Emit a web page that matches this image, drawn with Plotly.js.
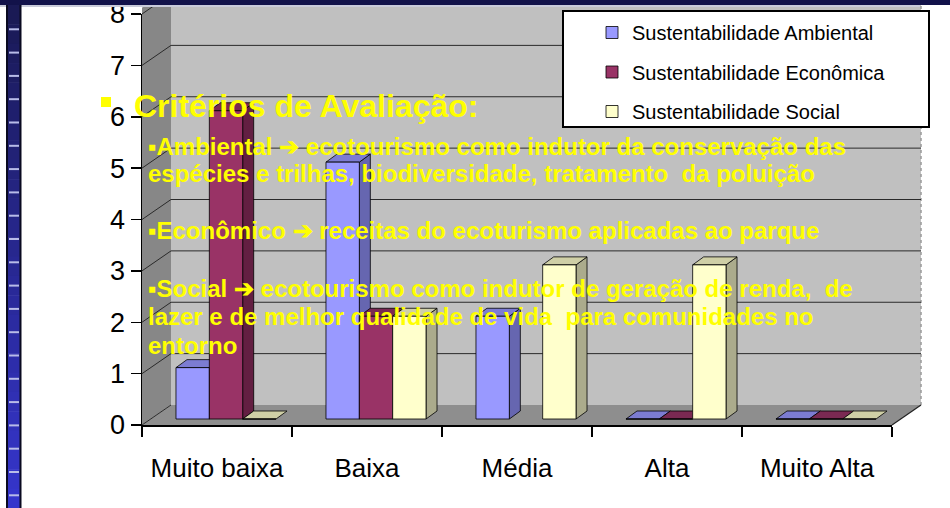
<!DOCTYPE html>
<html>
<head>
<meta charset="utf-8">
<script src="https://cdn.plot.ly/plotly-3.0.1.min.js"></script>
<style>html,body{margin:0;padding:0;background:#fff;}#chart{width:950px;height:508px;}</style>
</head>
<body>
<div id="chart"></div>
<script>
// ---- data ----
const categories = ['Muito baixa', 'Baixa', 'Média', 'Alta', 'Muito Alta'];
const ambiental = [1, 5, 2, 0, 0];
const economica = [6, 2, null, 0, 0];
const social = [0, 2, 3, 3, 0];
const seriesNames = ['Sustentabilidade Ambiental', 'Sustentabilidade Econômica', 'Sustentabilidade Social'];
const yTickVals = [0, 1, 2, 3, 4, 5, 6, 7, 8];
const overlayTitle = 'Critérios de Avaliação:';
const overlayLines = [
  '▪Ambiental ➔ ecotourismo como indutor da conservação das',
  'espécies e trilhas, biodiversidade, tratamento\u00a0 da poluição',
  '▪Econômico ➔ receitas do ecoturismo aplicadas ao parque',
  '▪Social ➔ ecotourismo como indutor de geração de renda,\u00a0 de',
  'lazer e de melhor qualidade de vida\u00a0 para comunidades no',
  'entorno'
];

// ---- styles ----
const W = 950, H = 508;
const M = {l: 142, r: 58, t: 14, b: 83};
const PW = W - M.l - M.r, PH = H - M.t - M.b;
const px = X => (X - M.l) / PW;
const py = Y => (H - M.b - Y) / PH;
const FONT = 'Liberation Sans, Arial, sans-serif';

const frontCol = ['#9999FF', '#993366', '#FFFFCC'];
const sideCol = ['#6666B0', '#631F42', '#ABAB8C'];
const topCol = ['#7C7CD2', '#7A2952', '#CFCFA6'];

const series = [ambiental, economica, social];
const nS = series.length;
const bargap = 0.333;
const barW = (1 - bargap) / nS;
const shiftX = 9 / (PW / 5);          // depth shift of bars (px -> x units)
const baseY = 6 / (PH / 8);           // bars sit slightly behind the front edge
const ddx = 11 / (PW / 5), ddy = 8 / (PH / 8);

const shapes = [];
// top banner and left strip decoration
shapes.push({type: 'rect', xref: 'paper', yref: 'paper', x0: px(0), x1: px(W), y0: py(0), y1: py(5), fillcolor: '#12124A', line: {width: 0}, layer: 'above'});
shapes.push({type: 'line', xref: 'paper', yref: 'paper', x0: px(0), x1: px(920), y0: py(6), y1: py(6), line: {color: '#C9CBDA', width: 2}, layer: 'above'});
const nSeg = 26;
for (let k = 0; k < nSeg; k++) {
  const t = k / (nSeg - 1);
  const r = Math.round(0x1A + t * (0x35 - 0x1A));
  const g = Math.round(0x1A + t * (0x35 - 0x1A));
  const b = Math.round(0x55 + t * (0xCC - 0x55));
  shapes.push({type: 'rect', xref: 'paper', yref: 'paper', x0: px(8), x1: px(20), y0: py(5 + k * (H - 5) / nSeg), y1: py(5 + (k + 1) * (H - 5) / nSeg + 0.5), fillcolor: `rgb(${r},${g},${b})`, line: {width: 0}, layer: 'above'});
}
shapes.push({type: 'line', xref: 'paper', yref: 'paper', x0: px(7), x1: px(7), y0: py(5), y1: py(H), line: {color: '#0A0A20', width: 2}, layer: 'above'});
shapes.push({type: 'line', xref: 'paper', yref: 'paper', x0: px(20.5), x1: px(20.5), y0: py(5), y1: py(H), line: {color: '#0A0A20', width: 2}, layer: 'above'});
for (let Y = 29.3; Y < H; Y += 23.3) {
  shapes.push({type: 'line', xref: 'paper', yref: 'paper', x0: px(9), x1: px(19), y0: py(Y), y1: py(Y), line: {color: '#B8BCE8', width: 2}, layer: 'above'});
}

// walls and floor
const dpx = 29, dpy = 20;
const yUnit = PH / 8;
shapes.push({type: 'rect', xref: 'paper', yref: 'paper', x0: px(M.l + dpx), x1: px(W - M.r + dpx), y0: py(H - M.b - dpy), y1: py(-10), fillcolor: '#C0C0C0', line: {width: 0}, layer: 'below'});
shapes.push({type: 'line', xref: 'paper', yref: 'paper', x0: px(W - M.r + dpx), x1: px(W - M.r + dpx), y0: py(H - M.b - dpy), y1: py(-10), line: {color: '#9A9A9A', width: 1.5, dash: 'dot'}, layer: 'below'});
shapes.push({type: 'path', xref: 'paper', yref: 'paper',
  path: `M${px(M.l)},${py(H - M.b)} L${px(M.l + dpx)},${py(H - M.b - dpy)} L${px(M.l + dpx)},${py(-30)} L${px(M.l)},${py(8)} Z`,
  fillcolor: '#878787', line: {width: 0}, layer: 'below'});
shapes.push({type: 'path', xref: 'paper', yref: 'paper',
  path: `M${px(M.l)},${py(H - M.b)} L${px(M.l + dpx)},${py(H - M.b - dpy)} L${px(W - M.r + dpx)},${py(H - M.b - dpy)} L${px(W - M.r)},${py(H - M.b)} Z`,
  fillcolor: '#8E8E8E', line: {width: 0}, layer: 'below'});
shapes.push({type: 'line', xref: 'paper', yref: 'paper', x0: px(W - M.r), x1: px(W - M.r + dpx), y0: py(H - M.b), y1: py(H - M.b - dpy), line: {color: '#222', width: 1.2}, layer: 'below'});
yTickVals.forEach(v => {
  const Yf = H - M.b - v * yUnit;
  const Yb = Yf - dpy;
  if (v > 0) shapes.push({type: 'line', xref: 'paper', yref: 'paper', x0: px(M.l + dpx), x1: px(W - M.r + dpx), y0: py(Yb), y1: py(Yb), line: {color: '#2A2A2A', width: 1}, layer: 'below'});
  shapes.push({type: 'line', xref: 'paper', yref: 'paper', x0: px(M.l), x1: px(M.l + dpx), y0: py(Yf), y1: py(Yb), line: {color: '#2A2A2A', width: 1}, layer: 'below'});
});

// 3D side/top faces of bars, computed from the data in axis coordinates
const faceShapes = [];
for (let i = 0; i < categories.length; i++) {
  for (let s = 0; s < nS; s++) {
    const v = series[s][i];
    if (v === null || v === undefined) continue;
    const c = i + shiftX + (s - (nS - 1) / 2) * barW;
    const xl = c - barW / 2, xr = c + barW / 2;
    const b0 = baseY, b1 = baseY + v;
    if (v > 0) {
      faceShapes.push({type: 'path', xref: 'x', yref: 'y', layer: 'below',
        path: `M${xr},${b0} L${xr + ddx},${b0 + ddy} L${xr + ddx},${b1 + ddy} L${xr},${b1} Z`,
        fillcolor: sideCol[s], line: {color: '#000', width: 0.8}});
    }
    faceShapes.push({type: 'path', xref: 'x', yref: 'y', layer: 'below',
      path: `M${xl},${b1} L${xl + ddx},${b1 + ddy} L${xr + ddx},${b1 + ddy} L${xr},${b1} Z`,
      fillcolor: topCol[s], line: {color: '#000', width: 0.8}});
  }
}
shapes.push(...faceShapes);

// legend box
shapes.push({type: 'rect', xref: 'paper', yref: 'paper', x0: px(563), x1: px(929), y0: py(127), y1: py(11), fillcolor: '#FFFFFF', line: {color: '#000', width: 2}, layer: 'above'});
// yellow bullet of the overlay title
shapes.push({type: 'rect', xref: 'paper', yref: 'paper', x0: px(101), x1: px(111), y0: py(107), y1: py(97), fillcolor: '#FFFF00', line: {width: 0}, layer: 'above'});

const traces = series.map((vals, s) => ({
  type: 'bar',
  name: seriesNames[s],
  legendgroup: 'g' + s,
  x: categories.map((c, i) => i + shiftX),
  y: vals,
  base: baseY,
  marker: {color: frontCol[s], line: {color: '#000', width: 0.8}},
  hoverinfo: 'skip'
}));

const annotations = [];
annotations.push({xref: 'paper', yref: 'paper', x: px(132), y: py(106), xanchor: 'left', yanchor: 'middle', showarrow: false,
  text: '<b>' + overlayTitle + '</b>', font: {family: FONT, size: 32, color: '#FFFF00'}});
const lineY = [146, 173, 230, 288, 316, 345];
overlayLines.forEach((t, k) => {
  annotations.push({xref: 'paper', yref: 'paper', x: px(146), y: py(lineY[k]), xanchor: 'left', yanchor: 'middle', showarrow: false,
    text: '<b>' + t + '</b>', font: {family: FONT, size: 24, color: '#FFFF00'}});
});

const layout = {
  width: W, height: H,
  margin: M,
  paper_bgcolor: '#FFFFFF',
  plot_bgcolor: 'rgba(0,0,0,0)',
  barmode: 'group',
  bargap: bargap,
  bargroupgap: 0,
  showlegend: true,
  legend: {
    x: px(592), y: py(13), xanchor: 'left', yanchor: 'top',
    bgcolor: 'rgba(0,0,0,0)', borderwidth: 0,
    font: {family: FONT, size: 20, color: '#000'},
    tracegroupgap: 10.5, traceorder: 'grouped'
  },
  xaxis: {
    range: [-0.5, 4.5], tickmode: 'array',
    tickvals: categories.map((c, i) => i), ticktext: categories,
    ticks: 'outside', ticklen: 0, tickcolor: 'rgba(0,0,0,0)',
    ticklabelstandoff: 19,
    minor: {tickmode: 'array', tickvals: categories.concat(['']).map((c, i) => i - 0.5), ticks: 'outside', ticklen: 10, tickcolor: '#000', tickwidth: 1.5, showgrid: false},
    showline: true, linecolor: '#000', linewidth: 1.5,
    showgrid: false, zeroline: false, fixedrange: true,
    tickfont: {family: FONT, size: 26, color: '#000'}
  },
  yaxis: {
    range: [0, 8], tickmode: 'array', tickvals: yTickVals,
    ticks: 'outside', ticklen: 10, tickcolor: '#000', tickwidth: 1.5,
    ticklabeloverflow: 'allow',
    showline: true, linecolor: '#000', linewidth: 1.5,
    showgrid: false, zeroline: false, fixedrange: true,
    tickfont: {family: FONT, size: 27, color: '#000'}
  },
  shapes: shapes,
  annotations: annotations
};

Plotly.newPlot('chart', traces, layout, {displayModeBar: false, staticPlot: true});
</script>
</body>
</html>
